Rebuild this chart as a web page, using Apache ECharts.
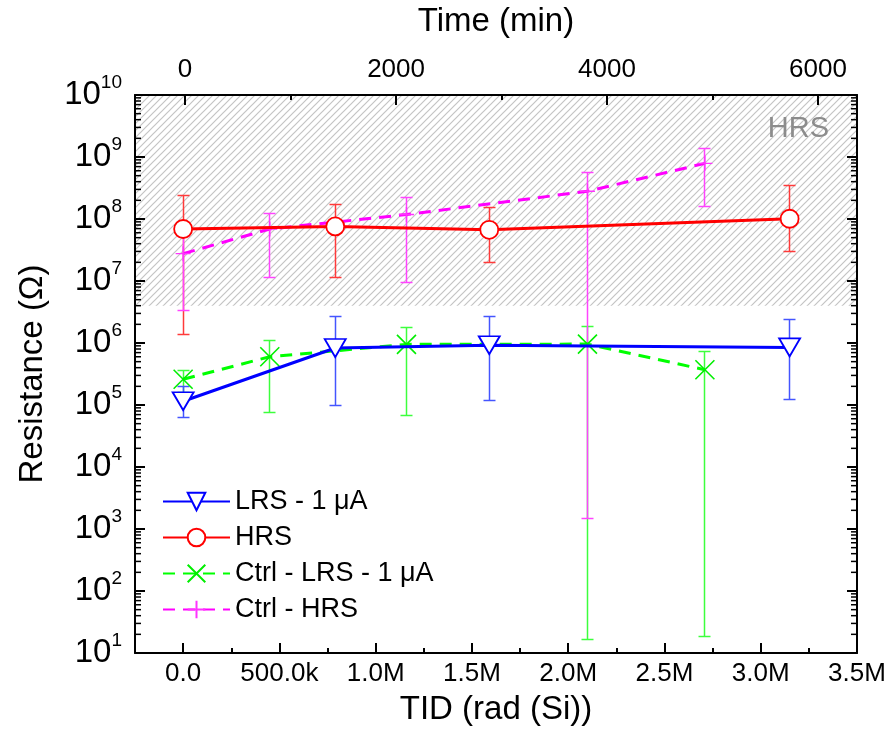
<!DOCTYPE html>
<html><head><meta charset="utf-8">
<script src="https://cdn.jsdelivr.net/npm/echarts@6/dist/echarts.min.js"></script>
<style>html,body{margin:0;padding:0;background:#fff}#c{width:891px;height:740px}</style>
</head><body><div id="c"></div>
<script>
// ---------- data ----------
const lrsTID = [0, 0.79e6, 1.59e6, 3.15e6];
const lrsR   = [1.15e5, 8.3e5, 9.2e5, 8.5e5];
const lrsLo  = [6.3e4, 1.0e5, 1.2e5, 1.23e5];
const lrsHi  = [2.0e5, 2.7e6, 2.7e6, 2.4e6];

const hrsTID = [0, 0.79e6, 1.59e6, 3.15e6];
const hrsR   = [6.9e7, 7.6e7, 6.7e7, 1.01e8];
const hrsLo  = [1.38e6, 1.12e7, 1.97e7, 2.95e7];
const hrsHi  = [2.4e8, 1.69e8, 1.55e8, 3.5e8];

const ctrlTID   = [0, 0.45e6, 1.16e6, 2.1e6, 2.71e6];
const ctrlLrsR  = [2.6e5, 6.0e5, 9.5e5, 9.6e5, 3.7e5];
const ctrlLrsLo = [1.6e5, 7.5e4, 6.8e4, 16.7, 18.4];
const ctrlLrsHi = [3.6e5, 1.1e6, 1.8e6, 1.85e6, 7.3e5];
const ctrlHrsR  = [2.76e7, 6.9e7, 1.18e8, 2.8e8, 7.9e8];
const ctrlHrsLo = [3.3e6, 1.12e7, 9.5e6, 1.47e3, 1.57e8];
const ctrlHrsHi = [5.2e7, 1.23e8, 2.24e8, 5.7e8, 1.39e9];

const seriesNames = ['LRS - 1 μA', 'HRS', 'Ctrl - LRS - 1 μA', 'Ctrl - HRS'];

const tidTicks  = [0, 0.5e6, 1.0e6, 1.5e6, 2.0e6, 2.5e6, 3.0e6, 3.5e6];
const tidLabels = ['0.0', '500.0k', '1.0M', '1.5M', '2.0M', '2.5M', '3.0M', '3.5M'];
const tidMinor  = [0.25e6, 0.75e6, 1.25e6, 1.75e6, 2.25e6, 2.75e6, 3.25e6];
const timeTicks  = [0, 2000, 4000, 6000];
const timeLabels = ['0', '2000', '4000', '6000'];
const timeMinor  = [1000, 3000, 5000];
const decades = [10, 1e2, 1e3, 1e4, 1e5, 1e6, 1e7, 1e8, 1e9, 1e10];
const decadeExp = ['1', '2', '3', '4', '5', '6', '7', '8', '9', '10'];
const minorMult = [2, 3, 4, 5, 6, 7, 8, 9];
const hrsBand = [4e6, 1e10];

// ---------- build ----------
const logMinor = [];
decades.slice(0, -1).forEach(d => minorMult.forEach(m => logMinor.push(d * m)));

const FONT = 'Liberation Sans';
const pat = document.createElement('canvas');
pat.width = 7; pat.height = 7;
(function () {
  const c = pat.getContext('2d');
  c.strokeStyle = '#c4c4c4'; c.lineWidth = 1.2;
  c.beginPath();
  c.moveTo(-1, 8); c.lineTo(8, -1);
  c.moveTo(-4.5, 4.5); c.lineTo(4.5, -4.5);
  c.moveTo(2.5, 11.5); c.lineTo(11.5, 2.5);
  c.stroke();
})();

const crisp = v => Math.round(v - 0.5) + 0.5;
function errSeries(name, xs, lo, hi, color, z) {
  return {
    type: 'custom', name: name, xAxisIndex: 0, yAxisIndex: 0, z: z, silent: true,
    data: xs.map((x, i) => [x, lo[i], hi[i]]),
    encode: { x: 0, y: [1, 2] },
    renderItem: function (params, api) {
      const x = api.value(0);
      const a = api.coord([x, api.value(1)]);
      const b = api.coord([x, api.value(2)]);
      const cx = crisp(a[0]), ya = crisp(a[1]), yb = crisp(b[1]);
      const hw = 6;
      const st = { stroke: color, lineWidth: 1.5 };
      return {
        type: 'group', children: [
          { type: 'line', shape: { x1: cx, y1: ya, x2: cx, y2: yb }, style: st },
          { type: 'line', shape: { x1: cx - hw, y1: ya, x2: cx + hw, y2: ya }, style: st },
          { type: 'line', shape: { x1: cx - hw, y1: yb, x2: cx + hw, y2: yb }, style: st }
        ]
      };
    }
  };
}
// y ticks as small filled rects, positioned through the log scale
function yTickSeries(vals, len, w) {
  return {
    type: 'custom', name: '__yt' + len, xAxisIndex: 0, yAxisIndex: 0, z: 20, silent: true, clip: false,
    data: vals.map(v => [0.5e6, v]), encode: { x: 0, y: 1 },
    renderItem: function (params, api) {
      const y = api.coord([0.5e6, api.value(1)])[1];
      const xl = api.coord([-0.25e6, api.value(1)])[0];
      const xr = api.coord([3.5e6, api.value(1)])[0];
      const st = { fill: '#000' };
      return { type: 'group', children: [
        { type: 'rect', shape: { x: xl, y: y - w / 2, width: len, height: w }, style: st },
        { type: 'rect', shape: { x: xr - len, y: y - w / 2, width: len, height: w }, style: st }
      ] };
    }
  };
}
const pairs = (xs, ys) => xs.map((x, i) => [x, ys[i]]);

const baseLine = { show: true, onZero: false, lineStyle: { color: '#000', width: 2 } };
const noLine = { show: false, onZero: false };
const tick = (len, vals, w) => {
  const t = { show: true, inside: true, length: len, lineStyle: { color: '#000', width: w || 2 } };
  if (vals) t.customValues = vals;
  return t;
};
const option = {
  animation: false,
  textStyle: { fontFamily: FONT },
  grid: { left: 135, right: 34, top: 94, bottom: 87 },
  legend: {
    data: seriesNames, orient: 'vertical', left: 157, top: 483,
    itemWidth: 67, itemHeight: 22, itemGap: 9,
    textStyle: { fontSize: 27, lineHeight: 27, color: '#000', fontFamily: FONT }
  },
  xAxis: [
    { type: 'value', position: 'bottom', min: -0.25e6, max: 3.5e6, z: 10,
      axisLine: baseLine, splitLine: { show: false },
      axisTick: tick(10, tidTicks),
      axisLabel: { customValues: tidTicks, margin: 8, fontSize: 26, color: '#000', fontFamily: FONT,
        formatter: v => tidLabels[tidTicks.indexOf(v)] },
      name: 'TID (rad (Si))', nameLocation: 'middle', nameGap: 40,
      nameTextStyle: { fontSize: 33, color: '#000', fontFamily: FONT } },
    { type: 'value', position: 'bottom', min: -0.25e6, max: 3.5e6, z: 10,
      axisLine: noLine, splitLine: { show: false }, axisLabel: { show: false },
      axisTick: tick(5, tidMinor) },
    { type: 'value', position: 'top', min: -475, max: 6370, z: 10,
      axisLine: baseLine, splitLine: { show: false },
      axisTick: tick(10, timeTicks),
      axisLabel: { customValues: timeTicks, margin: 12, fontSize: 26, color: '#000', fontFamily: FONT,
        formatter: v => timeLabels[timeTicks.indexOf(v)] },
      name: 'Time (min)', nameLocation: 'middle', nameGap: 57,
      nameTextStyle: { fontSize: 33, color: '#000', fontFamily: FONT } },
    { type: 'value', position: 'top', min: -475, max: 6370, z: 10,
      axisLine: noLine, splitLine: { show: false }, axisLabel: { show: false },
      axisTick: tick(5, timeMinor) }
  ],
  yAxis: [
    { type: 'log', logBase: 10, position: 'left', min: 10, max: 1e10, interval: 1, z: 10,
      axisLine: baseLine, splitLine: { show: false },
      axisTick: tick(10),
      axisLabel: { margin: 13, color: '#000', fontFamily: FONT,
        formatter: v => { const i = decades.findIndex(d => Math.abs(Math.log10(d) - Math.log10(v)) < 1e-6); return '{b|10}{s|' + (i >= 0 ? decadeExp[i] : '') + '}'; },
        rich: { b: { fontSize: 33, lineHeight: 43, fontFamily: FONT, color: '#000' },
                s: { fontSize: 19, lineHeight: 19, verticalAlign: 'top', fontFamily: FONT, color: '#000' } } },
      name: 'Resistance (Ω)', nameLocation: 'middle', nameGap: 86,
      nameTextStyle: { fontSize: 33, color: '#000', fontFamily: FONT } },
    { type: 'log', logBase: 10, position: 'right', min: 10, max: 1e10, interval: 1, z: 10,
      axisLine: baseLine, splitLine: { show: false }, axisLabel: { show: false },
      axisTick: tick(10) }
  ],
  series: [
    { type: 'line', name: '__band', data: [], xAxisIndex: 0, yAxisIndex: 0, silent: true,
      markArea: { silent: true, z: 1,
        itemStyle: { color: { image: pat, repeat: 'repeat' } },
        label: { show: true, position: 'insideTopRight', formatter: 'HRS', offset: [-23, 14],
                 color: '#8c8c8c', fontSize: 29, fontFamily: FONT },
        data: [[{ yAxis: hrsBand[0] }, { yAxis: hrsBand[1] }]] } },
    yTickSeries(decades, 10, 2),
    yTickSeries(logMinor, 6, 1.5),
    errSeries('e3', ctrlTID, ctrlLrsLo, ctrlLrsHi, '#3cff3c', 2),
    errSeries('e1', lrsTID, lrsLo, lrsHi, '#4455ff', 2),
    errSeries('e2', hrsTID, hrsLo, hrsHi, '#ff3a3a', 2),
    errSeries('e4', ctrlTID, ctrlHrsLo, ctrlHrsHi, '#ff44ff', 3),
    { type: 'line', name: seriesNames[2], data: pairs(ctrlTID, ctrlLrsR), z: 4,
      symbol: 'path://M0,0L10,10M10,0L0,10', symbolSize: 19,
      lineStyle: { color: '#00ff00', width: 3, type: [12, 8] },
      itemStyle: { color: '#00ee00', borderColor: '#00ee00', borderWidth: 1.6 } },
    { type: 'line', name: seriesNames[3], data: pairs(ctrlTID, ctrlHrsR), z: 4,
      symbol: 'path://M0,5L10,5M5,0L5,10', symbolSize: 15,
      lineStyle: { color: '#ff00ff', width: 3, type: [12, 8] },
      itemStyle: { color: '#ff33ff', borderColor: '#ff33ff', borderWidth: 1.4 } },
    { type: 'line', name: seriesNames[0], data: pairs(lrsTID, lrsR), z: 5,
      symbol: 'triangle', symbolRotate: 180, symbolSize: [21, 18],
      lineStyle: { color: '#0000ff', width: 3 },
      itemStyle: { color: '#ffffff', borderColor: '#0000ff', borderWidth: 1.8 } },
    { type: 'line', name: seriesNames[1], data: pairs(hrsTID, hrsR), z: 5,
      symbol: 'circle', symbolSize: 18,
      lineStyle: { color: '#ff0000', width: 3 },
      itemStyle: { color: '#ffffff', borderColor: '#ff0000', borderWidth: 1.8 } }
  ]
};
const chart = echarts.init(document.getElementById('c'), null, { renderer: 'canvas' });
chart.setOption(option);
</script>
</body></html>
